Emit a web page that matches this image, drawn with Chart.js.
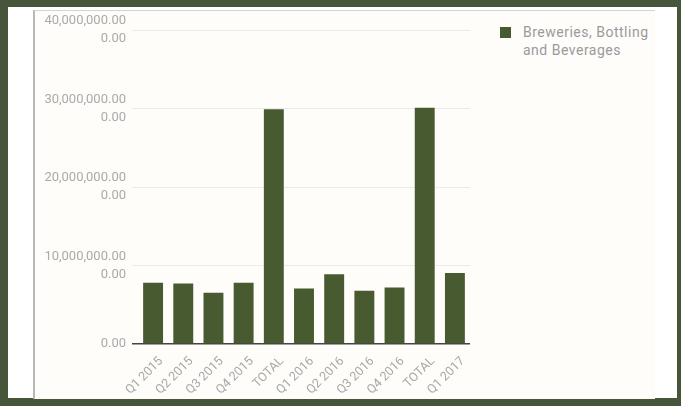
<html>
<head>
<title>Breweries, Bottling and Beverages</title>
<script src="https://cdn.jsdelivr.net/npm/chart.js@4/dist/chart.umd.min.js"></script>
<style>
  body { margin: 0; background: #47563a; font-family: Roboto, Arial, sans-serif; }
  #panel { position: absolute; left: 8px; top: 7px; width: 669px; height: 391px; background: #ffffff; }
  #inner { position: absolute; left: 25px; top: 3px; width: 620px; height: 388px;
           background: #fffdfa; border-left: 2px solid #b8b8b8; border-top: 1px solid #d4d4d4; }
  #chart { position: absolute; left: 0; top: 0; }
  #legend { position: absolute; left: 500px; top: 23px; color: #9a9a9a; font-size: 14px; line-height: 18px; letter-spacing: 0.5px; }
  #legend .box { position: absolute; left: 0; top: 4px; width: 11px; height: 11px; }
  #legend .txt { position: absolute; left: 23px; top: 0; white-space: nowrap; }
</style>
</head>
<body>
<div id="panel"><div id="inner"></div></div>
<canvas id="chart" width="490" height="398"></canvas>
<div id="legend"></div>
<script>
    var categories = ["Q1 2015", "Q2 2015", "Q3 2015", "Q4 2015", "TOTAL",
                      "Q1 2016", "Q2 2016", "Q3 2016", "Q4 2016", "TOTAL", "Q1 2017"];
    var seriesName = ["Breweries, Bottling", "and Beverages"];
    var values = [7790000, 7710000, 6520000, 7790000, 29900000,
                  7080000, 8890000, 6770000, 7200000, 30100000, 9060000];
    var yTicks = [0, 10000000, 20000000, 30000000, 40000000];
    var yTickLabels = ["0.00",
                       ["10,000,000.00", "0.00"],
                       ["20,000,000.00", "0.00"],
                       ["30,000,000.00", "0.00"],
                       ["40,000,000.00", "0.00"]];

    var barColor = "#485a2f";

    // legend is plain html so the long name can wrap
    var lg = document.getElementById("legend");
    lg.innerHTML = '<div class="box" style="background:' + barColor + '"></div>' +
                   '<div class="txt">' + seriesName.join("<br>") + '</div>';

    var ctx = document.getElementById('chart').getContext('2d');
    new Chart(ctx, {
        type: 'bar',
        data: {
            labels: categories,
            datasets: [{
                label: seriesName.join(" "),
                backgroundColor: barColor,
                data: values,
                categoryPercentage: 1,
                barPercentage: 0.66
            }]
        },
        options: {
            responsive: false,
            animation: false,
            layout: {padding: {top: 30, right: 20, bottom: 0, left: 0}},
            plugins: {legend: {display: false}, tooltip: {enabled: false}},
            scales: {
                x: {
                    grid: {display: false},
                    border: {display: false},
                    ticks: {
                        color: '#a8a8a8', font: {family: 'Roboto', size: 12.5},
                        minRotation: 45, maxRotation: 45, autoSkip: false,
                        padding: 2, labelOffset: 8
                    },
                    afterFit: function (s) { s.height = 398 - 344; }
                },
                y: {
                    min: 0, max: 40000000,
                    afterBuildTicks: function (s) { s.ticks = yTicks.map(function (v) { return {value: v}; }); },
                    border: {display: false},
                    grid: {
                        tickLength: 6,
                        color: function (c) { return c.tick && c.tick.value === 0 ? '#444' : '#ebebeb'; },
                        lineWidth: function (c) { return c.tick && c.tick.value === 0 ? 1.5 : 1; }
                    },
                    ticks: {
                        color: '#aaa', font: {family: 'Roboto', size: 13, lineHeight: 1.4}, padding: 6,
                        callback: function (v) { return yTickLabels[yTicks.indexOf(v)]; }
                    },
                    afterFit: function (s) { s.width = 138; }
                }
            }
        }
    });
</script>
</body>
</html>
